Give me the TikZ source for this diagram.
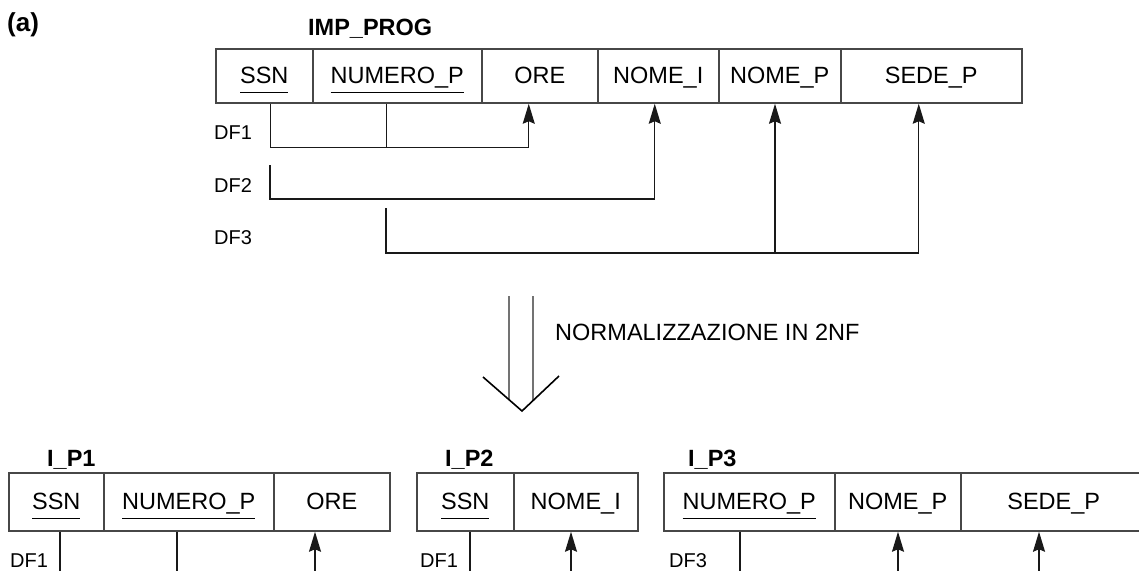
\documentclass[tikz,border=0pt]{standalone}
\usepackage{fontspec}
\setmainfont{Liberation Sans}
\usetikzlibrary{arrows.meta}
\newcommand\keyul[1]{\setbox0\hbox{#1}\rlap{\rule[-9.6pt]{\wd0}{1.3pt}}\box0}
\begin{document}
\begin{tikzpicture}[x=1pt,y=-1pt,
  cell/.style={draw=black!72, line width=1.5pt, anchor=west, inner sep=0pt,
    text height=15pt, text depth=0pt, font=\fontsize{23.5}{28}\selectfont},
  topcell/.style={cell, minimum height=54pt},
  botcell/.style={cell, minimum height=58pt},
  title/.style={anchor=west, inner sep=0pt, font=\fontsize{23.5}{28}\selectfont\bfseries},
  dflab/.style={anchor=west, inner sep=0pt, font=\fontsize{20}{24}\selectfont},
  conn/.style={draw=black!90, line width=1.4pt},
  arr/.style={conn, -{Stealth[length=20pt,width=12pt,inset=2.5pt]}},
  dbl/.style={draw=black!55, line width=1.4pt},
  vee/.style={draw=black, line width=1.6pt, line join=miter}]
\useasboundingbox (0,0) rectangle (1139,570);
\clip (0,0) rectangle (1139,570);
\fill[white] (0,0) rectangle (1139,570);

% ---------- top relation ----------
\node[title, font=\fontsize{26}{30}\selectfont\bfseries] (lab-a) at (7,25) {(a)};
\node[title] (t-title) at (308,29) {IMP\_PROG};
\node[topcell, minimum width=97pt]  (t-ssn)   at (215,76) {\keyul{SSN}};
\node[topcell, minimum width=169pt] (t-num)   at (312,76) {\keyul{NUMERO\_P}};
\node[topcell, minimum width=116pt] (t-ore)   at (481,76) {ORE};
\node[topcell, minimum width=121pt] (t-nomei) at (597,76) {NOME\_I};
\node[topcell, minimum width=122pt] (t-nomep) at (718,76) {NOME\_P};
\node[topcell, minimum width=181pt] (t-sede)  at (840,76) {SEDE\_P};

\node[dflab] (t-df1) at (214,132.5) {DF1};
\node[dflab] (t-df2) at (214,185.5) {DF2};
\node[dflab] (t-df3) at (214,237.5) {DF3};

% DF1
\draw[arr] ([xshift=6.5pt]t-ssn.south) -- ++(0,44) -| ([xshift=-11pt]t-ore.south);
\draw[conn] ([xshift=-10.5pt]t-num.south) -- ++(0,44);
% DF2
\coordinate (df2s) at (270,165);
\draw[arr] (df2s) -- ++(0,34) -| ([xshift=-3.5pt]t-nomei.south);
% DF3
\coordinate (df3s) at (386,208);
\coordinate (df3j) at (775,253);
\draw[arr] (df3s) -- ++(0,45) -| ([xshift=-12.5pt]t-sede.south);
\draw[arr] (df3j) -- (t-nomep.south -| df3j);

% ---------- normalization arrow ----------
\coordinate (dl1) at (509,296);
\coordinate (dl2) at (509,400);
\coordinate (dr1) at (533,296);
\coordinate (dr2) at (533,400);
\draw[dbl] (dl1) -- (dl2);
\draw[dbl] (dr1) -- (dr2);
\coordinate (va) at (483,377);
\coordinate (vb) at (522,411);
\coordinate (vc) at (559,376);
\draw[vee] (va) -- (vb) -- (vc);
\node[anchor=west, inner sep=0pt, font=\fontsize{23.5}{28}\selectfont] (norm) at (555,332) {NORMALIZZAZIONE IN 2NF};

% ---------- I_P1 ----------
\node[title] (p1-title) at (47,460) {I\_P1};
\node[botcell, minimum width=95pt]  (p1-ssn) at (8,502)   {\keyul{SSN}};
\node[botcell, minimum width=170pt] (p1-num) at (103,502) {\keyul{NUMERO\_P}};
\node[botcell, minimum width=116pt] (p1-ore) at (273,502) {ORE};
\node[dflab] (p1-df1) at (10,560.5) {DF1};
\coordinate (p1a) at (60,600);
\coordinate (p1b) at (177,600);
\coordinate (p1c) at (315,600);
\draw[conn] (p1-ssn.south -| p1a) -- (p1a);
\draw[conn] (p1-num.south -| p1b) -- (p1b);
\draw[arr] (p1c) -- (p1-ore.south -| p1c);

% ---------- I_P2 ----------
\node[title] (p2-title) at (445,460) {I\_P2};
\node[botcell, minimum width=97pt]  (p2-ssn)   at (416,502) {\keyul{SSN}};
\node[botcell, minimum width=124pt] (p2-nomei) at (513,502) {NOME\_I};
\node[dflab] (p2-df1) at (420,560.5) {DF1};
\coordinate (p2a) at (470,600);
\coordinate (p2b) at (571,600);
\draw[conn] (p2-ssn.south -| p2a) -- (p2a);
\draw[arr] (p2b) -- (p2-nomei.south -| p2b);

% ---------- I_P3 ----------
\node[title] (p3-title) at (688,460) {I\_P3};
\node[botcell, minimum width=171pt] (p3-num)   at (663,502) {\keyul{NUMERO\_P}};
\node[botcell, minimum width=126pt] (p3-nomep) at (834,502) {NOME\_P};
\node[botcell, minimum width=186pt] (p3-sede)  at (960,502) {SEDE\_P};
\node[dflab] (p3-df3) at (669,560.5) {DF3};
\coordinate (p3a) at (740,600);
\coordinate (p3b) at (898,600);
\coordinate (p3c) at (1039,600);
\draw[conn] (p3-num.south -| p3a) -- (p3a);
\draw[arr] (p3b) -- (p3-nomep.south -| p3b);
\draw[arr] (p3c) -- (p3-sede.south -| p3c);
\end{tikzpicture}
\end{document}
